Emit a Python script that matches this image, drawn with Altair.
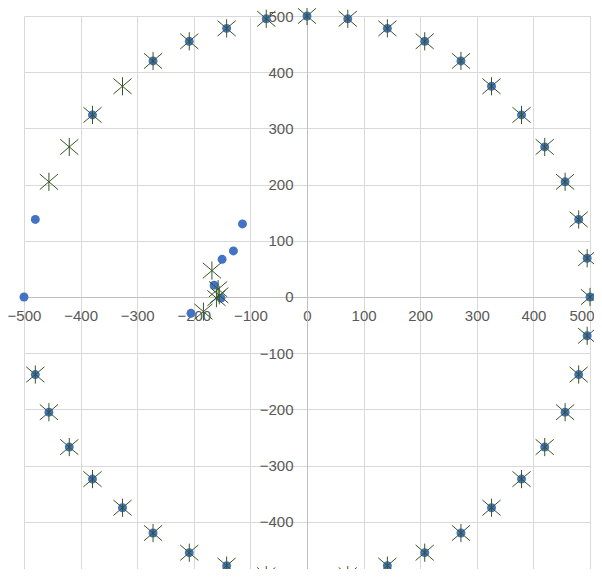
import altair as alt
import pandas as pd

# Series 1: blue filled circles
blue_x = [0, 72, 142, 208, 272, 326, 379, 420, 456, 480, 495, 500,
          495, 480, 456, 420, 379, 326, 272, 208, 142, 72, 0,
          -72, -142, -208, -272, -326, -379, -420, -456, -480,
          -500, -480,
          -379, -272, -208, -142, -72,
          -114, -130, -150, -164, -152, -205]
blue_y = [500, 495, 478, 455, 420, 375, 324, 267, 205, 138, 69, 0,
          -69, -138, -205, -267, -324, -375, -420, -455, -478, -495, -500,
          -495, -478, -455, -420, -375, -324, -267, -205, -138,
          0, 138,
          324, 420, 455, 478, 495,
          130, 82, 67, 21, -2, -29]

# Series 2: green star markers
star_x = [0, 72, 142, 208, 272, 326, 379, 420, 456, 480, 495, 500,
          495, 480, 456, 420, 379, 326, 272, 208, 142, 72, 0,
          -72, -142, -208, -272, -326, -379, -420, -456, -480,
          -456, -420, -379, -326, -272, -208, -142, -72,
          -168, -157, -155, -160, -183]
star_y = [500, 495, 478, 455, 420, 375, 324, 267, 205, 138, 69, 0,
          -69, -138, -205, -267, -324, -375, -420, -455, -478, -495, -500,
          -495, -478, -455, -420, -375, -324, -267, -205, -138,
          205, 267, 324, 375, 420, 455, 478, 495,
          47, 14, 3, -2, -26]

x_ticks = [-500, -400, -300, -200, -100, 0, 100, 200, 300, 400, 500]
y_ticks = [-400, -300, -200, -100, 0, 100, 200, 300, 400, 500]

df_blue = pd.DataFrame({"x": blue_x, "y": blue_y})
df_star = pd.DataFrame({"x": star_x, "y": star_y})

Y_MIN, Y_MAX = -484, 500
W = 566
H = round(562 * (Y_MAX - Y_MIN) / 1000)
y0_px = H * Y_MAX / (Y_MAX - Y_MIN)
STAR = "M-1,-0.85L1,0.85M-1,0.85L1,-0.85M0,-1L0,1"

common_axis = dict(
    ticks=False,
    domainColor="#bfbfbf",
    domainWidth=1,
    gridColor="#d9d9d9",
    gridWidth=1,
    labelColor="#595959",
    labelFont="Liberation Sans",
    labelFontSize=15,
    labelFlush=False,
    labelOverlap=False,
    title=None,
    format="d",
)

xenc = alt.X(
    "x:Q", scale=alt.Scale(domain=[-500, 500], nice=False),
    axis=alt.Axis(
        values=x_ticks, offset=-(H - y0_px), labelPadding=12,
        labelAlign={"condition": {"test": "datum.value == 500", "value": "right"}, "value": "center"},
        labelOffset={"condition": {"test": "datum.value == 500", "value": 4}, "value": 0},
        **common_axis,
    ),
)
yenc = alt.Y(
    "y:Q", scale=alt.Scale(domain=[Y_MIN, Y_MAX], nice=False),
    axis=alt.Axis(values=y_ticks, offset=-W / 2, labelPadding=14, **common_axis),
)

blue = alt.Chart(df_blue).mark_point(
    shape="circle", filled=True, size=80, color="#4472C4", opacity=1
).encode(x=xenc, y=yenc)

star = alt.Chart(df_star).mark_point(
    shape=STAR, filled=False, size=330, stroke="#375623", strokeWidth=1, opacity=1
).encode(x=xenc, y=yenc)

chart = alt.layer(blue, star).properties(
    width=W, height=H,
    padding={"left": 16, "top": 8, "right": 4, "bottom": 0},
    autosize=alt.AutoSizeParams(type="none"),
).configure_view(strokeWidth=0)

chart.save("out.html", embed_options={"renderer": "svg", "actions": False})
